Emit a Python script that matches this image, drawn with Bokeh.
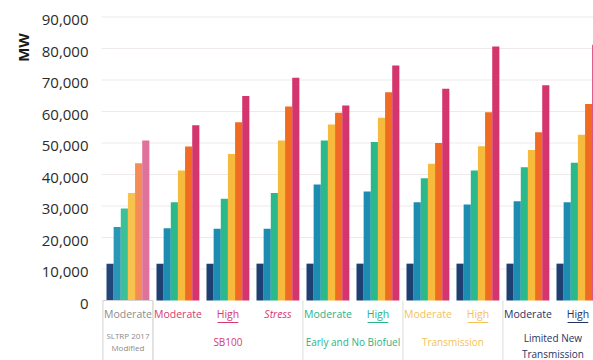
import math
from bokeh.plotting import figure
from bokeh.models import ColumnDataSource, Range1d
from bokeh.core.properties import value
from bokeh.embed import file_html
from bokeh.resources import INLINE

# ---------------- data ----------------
sub_labels = ["Moderate", "Moderate", "High", "Stress", "Moderate", "High",
              "Moderate", "High", "Moderate", "High"]
scenario_of_group = [0, 1, 1, 1, 2, 2, 3, 3, 4, 4]
scenario_lines = [["SLTRP 2017", "Modified"], ["SB100"], ["Early and No Biofuel"],
                  ["Transmission"], ["Limited New", "Transmission"]]
y_ticks = [0, 10000, 20000, 30000, 40000, 50000, 60000, 70000, 80000, 90000]
y_tick_labels = ["0", "10,000", "20,000", "30,000", "40,000", "50,000",
                 "60,000", "70,000", "80,000", "90,000"]
y_title = "MW"

series1 = [11700, 11700, 11700, 11700, 11700, 11700, 11700, 11700, 11700, 11700]
series2 = [23300, 22900, 22750, 22750, 36800, 34600, 31200, 30500, 31500, 31200]
series3 = [29200, 31200, 32300, 34100, 50800, 50300, 38800, 41300, 42300, 43700]
series4 = [34100, 41300, 46500, 50800, 55900, 58000, 43400, 49000, 47800, 52600]
series5 = [43600, 48900, 56600, 61600, 59600, 66100, 50000, 59800, 53400, 62400]
series6 = [50800, 55600, 64900, 70700, 61900, 74600, 67200, 80600, 68300, 81200]
all_series = [series1, series2, series3, series4, series5, series6]

# ---------------- styles ----------------
series_colors = ["#1d3f72", "#1c8db1", "#2bb98b", "#f6bb3c", "#f26b22", "#d4356c"]
first_group_colors = ["#23467a", "#2a97b6", "#3cc097", "#f7c24e", "#f58c56", "#df719b"]
scenario_colors = ["#8c8c8c", "#d83a70", "#2ab48a", "#f5c15a", "#1f3463"]

PITCH = 7.0          # 6 bars + 1 gap
PX_PER_UNIT = 50.0 / 7.0
BASE_PX = 300.0
PX_PER_10K = 31.5

def ux(px):
    return (px - 106.0) / PX_PER_UNIT

def vy(py):
    return (BASE_PX - py) / PX_PER_10K * 10000.0

FONT = value("Open Sans")

p = figure(width=593, height=360, output_backend="svg", toolbar_location=None,
           x_axis_location=None, y_axis_location=None,
           x_range=Range1d(ux(0), ux(593)), y_range=Range1d(vy(360), vy(0)),
           min_border_left=0, min_border_right=0, min_border_top=0, min_border_bottom=0)
p.outline_line_color = None
p.background_fill_color = "white"
p.border_fill_color = "white"
p.xgrid.grid_line_color = None
p.ygrid.grid_line_color = None

# gridlines
gy = y_ticks[1:]
p.segment(x0=[ux(101)] * len(gy), y0=gy, x1=[ux(593)] * len(gy), y1=gy,
          line_color="#efe9ea", line_width=1)

# tick labels
p.text(x=[ux(88)] * len(y_ticks), y=y_ticks, text=y_tick_labels, text_font=FONT,
       text_font_size="15px", text_color="#2b2b2b", text_align="right",
       text_baseline="middle", y_offset=3)

# axis title
p.text(x=[ux(22)], y=[vy(47)], text=[y_title], angle=math.pi / 2, text_font=FONT,
       text_font_size="15px", text_font_style="bold", text_color="#1a1a1a",
       text_align="center", text_baseline="middle")

# bars
xs, tops, cols = [], [], []
for g in range(len(sub_labels)):
    for s, ser in enumerate(all_series):
        xs.append(g * PITCH + s + 0.5)
        tops.append(ser[g])
        cols.append(first_group_colors[s] if g == 0 else series_colors[s])
src = ColumnDataSource(dict(x=xs, top=tops, color=cols))
p.vbar(x="x", top="top", bottom=0, width=1.0, color="color", source=src, line_color=None)

# separators / boxes below the bars
p.quad(left=[-0.5], right=[PITCH - 0.5], top=[0], bottom=[vy(362)],
       fill_color=None, line_color="#d2d2d2", line_width=1)
sep_x = []
for g in range(1, len(sub_labels)):
    if scenario_of_group[g] != scenario_of_group[g - 1]:
        sep_x.append(g * PITCH - 0.5)
p.segment(x0=sep_x, y0=[0] * len(sep_x), x1=sep_x, y1=[vy(362)] * len(sep_x),
          line_color="#dcdcdc", line_width=1)

# sub labels (row 1)
for g, lab in enumerate(sub_labels):
    cx = g * PITCH + 3.0
    col = scenario_colors[scenario_of_group[g]]
    style = "italic" if lab == "Stress" else "normal"
    p.text(x=[cx], y=[vy(313)], text=[lab], text_font=FONT, text_font_size="10.5px",
           text_color=col, text_align="center", text_baseline="middle",
           text_font_style=style)
    if lab == "High":
        p.segment(x0=[cx - 1.45], y0=[vy(322)], x1=[cx + 1.45], y1=[vy(322)],
                  line_color=col, line_width=1)

# scenario labels (row 2)
for sc, lines in enumerate(scenario_lines):
    gs = [g for g in range(len(sub_labels)) if scenario_of_group[g] == sc]
    cx = (gs[0] * PITCH + gs[-1] * PITCH) / 2.0 + 3.0
    if sc == 0:
        ys, size = [vy(334.5), vy(346.5)], "8px"
    elif len(lines) == 2:
        ys, size = [vy(337), vy(353)], "10px"
    else:
        ys, size = [vy(341)], "10px"
    if sc == 1:
        cx = gs[1] * PITCH + 3.0
    for line, yy in zip(lines, ys):
        p.text(x=[cx], y=[yy], text=[line], text_font=FONT, text_font_size=size,
               text_color=scenario_colors[sc], text_align="center", text_baseline="middle")

open("out.html", "w").write(file_html(p, INLINE))
